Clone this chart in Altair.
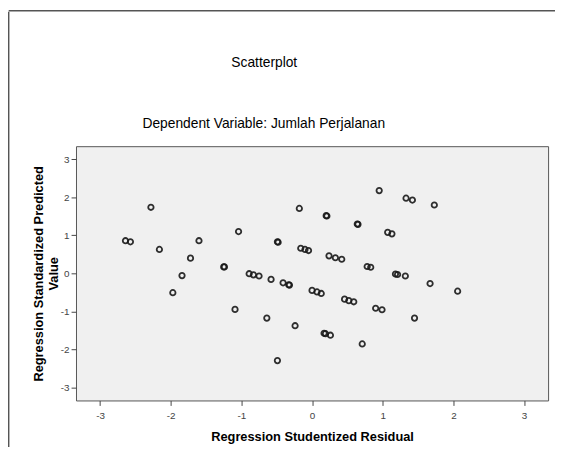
import altair as alt
import pandas as pd

# Regression Studentized Residual (x) and Regression Standardized Predicted Value (y)
resid = [-2.64, -2.57, -2.28, -2.16, -1.97, -1.84, -1.72, -1.60, -1.25, -1.24,
         -1.09, -1.04, -0.89, -0.83, -0.75, -0.64, -0.58, -0.49, -0.48, -0.49,
         -0.41, -0.33, -0.32, -0.24, -0.18, -0.16, -0.10, -0.05, 0.00, 0.07,
         0.13, 0.17, 0.19, 0.26, 0.20, 0.21, 0.24, 0.33, 0.42, 0.46,
         0.52, 0.59, 0.64, 0.65, 0.71, 0.78, 0.83, 0.90, 0.99, 0.95,
         1.07, 1.13, 1.18, 1.21, 1.32, 1.33, 1.42, 1.45, 1.67, 1.73,
         2.06]
pred = [0.86, 0.83, 1.74, 0.63, -0.51, -0.06, 0.40, 0.86, 0.17, 0.17,
        -0.95, 1.10, -0.01, -0.04, -0.07, -1.18, -0.16, 0.83, 0.82, -2.30,
        -0.25, -0.30, -0.31, -1.38, 1.71, 0.66, 0.63, 0.60, -0.45, -0.49,
        -0.53, -1.58, -1.59, -1.63, 1.52, 1.51, 0.46, 0.41, 0.37, -0.68,
        -0.72, -0.75, 1.30, 1.29, -1.86, 0.18, 0.16, -0.92, -0.96, 2.18,
        1.08, 1.04, -0.02, -0.03, -0.07, 1.98, 1.93, -1.18, -0.27, 1.80,
        -0.47]

ticks = [-3, -2, -1, 0, 1, 2, 3]
title_text = "Scatterplot"
subtitle_text = "Dependent Variable: Jumlah Perjalanan"

df = pd.DataFrame({"resid": resid, "pred": pred})
one = pd.DataFrame({"k": [0]})

FONT = "Liberation Sans"

points = alt.Chart(df).mark_point(
    shape="circle", filled=False, size=30, strokeWidth=1.8,
    color="#1a1a1a", opacity=0.9
).encode(
    x=alt.X("resid:Q",
            scale=alt.Scale(domain=[-3.34, 3.34], nice=False, zero=False),
            axis=alt.Axis(values=ticks, title="Regression Studentized Residual",
                          labelExpr="'' + datum.value", labelPadding=5,
                          titlePadding=11)),
    y=alt.Y("pred:Q",
            scale=alt.Scale(domain=[-3.35, 3.35], nice=False, zero=False),
            axis=alt.Axis(values=ticks,
                          title=["Regression Standardized Predicted", "Value"],
                          labelExpr="'' + datum.value", titlePadding=0)),
)

frame_left = alt.Chart(one).mark_rule(color="#555555", strokeWidth=1.5).encode(
    x=alt.value(-68.3), y=alt.value(-136.5), y2=alt.value(320)
)
frame_top = alt.Chart(one).mark_rule(color="#555555", strokeWidth=1.5).encode(
    x=alt.value(-68.3), x2=alt.value(500), y=alt.value(-137.5)
)

title_mark = alt.Chart(one).mark_text(
    text=title_text, font=FONT, fontSize=14, color="#000000",
    align="center", baseline="middle"
).encode(x=alt.value(191), y=alt.value(-84))

subtitle_mark = alt.Chart(one).mark_text(
    text=subtitle_text, font=FONT, fontSize=14, color="#000000",
    align="center", baseline="middle"
).encode(x=alt.value(190.5), y=alt.value(-22))

chart = alt.layer(frame_left, frame_top, title_mark, subtitle_mark, points).properties(
    width=479,
    height=258,
    autosize=alt.AutoSizeParams(type="none"),
    padding={"left": 69, "top": 137, "right": 7, "bottom": 44},
).configure_view(
    fill="#f0f0f0", stroke="#555555", strokeWidth=1
).configure_axis(
    grid=False, domain=False,
    labelFont=FONT, labelFontSize=10, labelColor="#444444",
    tickColor="#444444", tickSize=5, labelPadding=2,
    titleFont=FONT, titleFontSize=13, titleFontWeight="bold", titleColor="#000000",
)

chart.save("out.html", embed_options={"renderer": "svg", "actions": False})
